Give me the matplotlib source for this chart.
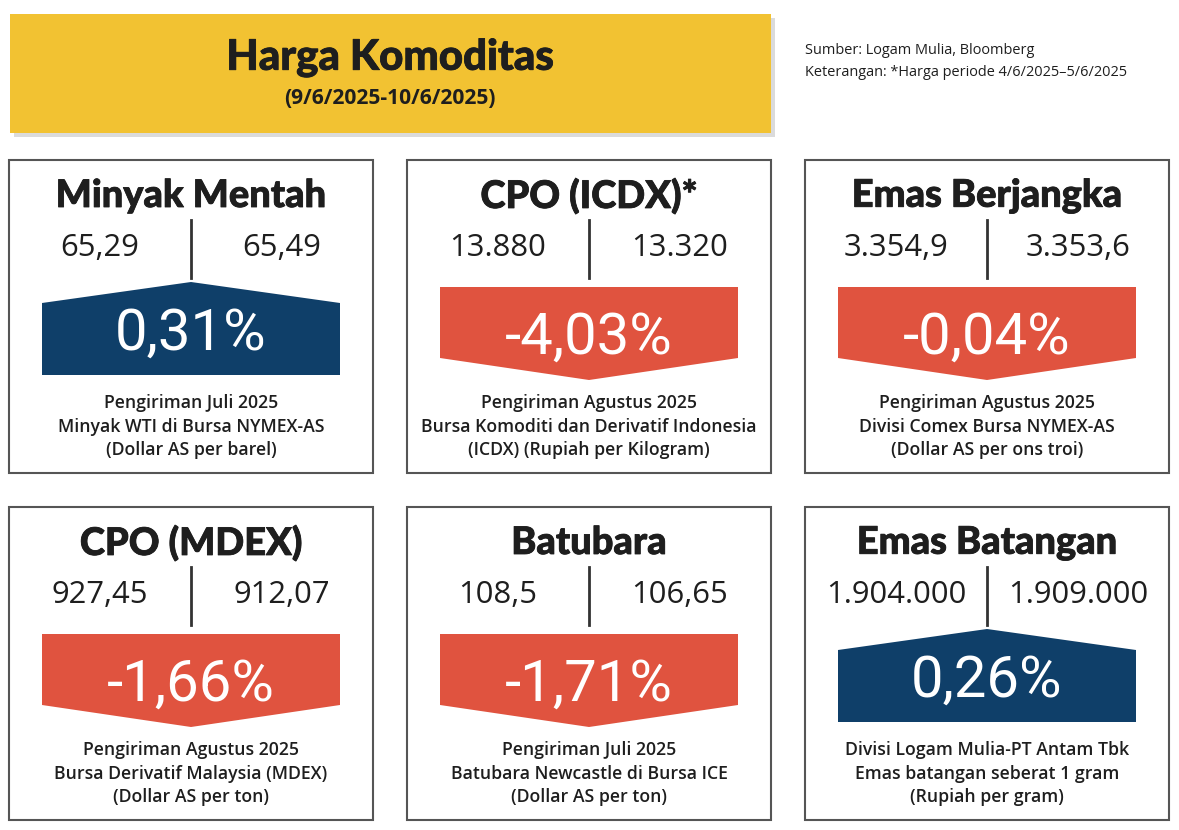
import matplotlib
matplotlib.use("Agg")
import matplotlib.pyplot as plt
import matplotlib.patheffects as pe
from matplotlib.patches import Rectangle, Polygon
from matplotlib import font_manager

# data of the six commodity cards
names = ['Minyak Mentah', 'CPO (ICDX)*', 'Emas Berjangka',
         'CPO (MDEX)', 'Batubara', 'Emas Batangan']
prev_prices = ['65,29', '13.880', '3.354,9', '927,45', '108,5', '1.904.000']
curr_prices = ['65,49', '13.320', '3.353,6', '912,07', '106,65', '1.909.000']
changes = [0.31, -4.03, -0.04, -1.66, -1.71, 0.26]
notes = [
    ['Pengiriman Juli 2025', 'Minyak WTI di Bursa NYMEX-AS', '(Dollar AS per barel)'],
    ['Pengiriman Agustus 2025', 'Bursa Komoditi dan Derivatif Indonesia',
     '(ICDX) (Rupiah per Kilogram)'],
    ['Pengiriman Agustus 2025', 'Divisi Comex Bursa NYMEX-AS', '(Dollar AS per ons troi)'],
    ['Pengiriman Agustus 2025', 'Bursa Derivatif Malaysia (MDEX)', '(Dollar AS per ton)'],
    ['Pengiriman Juli 2025', 'Batubara Newcastle di Bursa ICE', '(Dollar AS per ton)'],
    ['Divisi Logam Mulia-PT Antam Tbk', 'Emas batangan seberat 1 gram',
     '(Rupiah per gram)'],
]
title = 'Harga Komoditas'
subtitle = '(9/6/2025-10/6/2025)'
sources = ['Sumber: Logam Mulia, Bloomberg',
           'Keterangan: *Harga periode 4/6/2025\u20135/6/2025']

# pick fonts that exist
avail = {f.name for f in font_manager.fontManager.ttflist}
heavy = 'Lato' if 'Lato' in avail else 'DejaVu Sans'
body = 'Open Sans' if 'Open Sans' in avail else 'DejaVu Sans'
pct_font = 'Roboto' if 'Roboto' in avail else body

PT = 0.72  # pixel size -> points at dpi 100
BLUE = '#0f3f69'
RED = '#e0533f'
YELLOW = '#f2c232'
INK = '#1e1e1e'

fig = plt.figure(figsize=(11.79, 8.30), dpi=100)
ax = fig.add_axes([0, 0, 1, 1])
ax.set_xlim(0, 1179)
ax.set_ylim(830, 0)
ax.axis('off')

# header box with a soft shadow
ax.add_patch(Rectangle((14, 18), 761, 119, color='#c4c4c4', alpha=0.6, lw=0))
ax.add_patch(Rectangle((10, 14), 761, 119, color=YELLOW, lw=0))
ax.text(390, 58, title, ha='center', va='center', fontsize=42 * PT,
        family=heavy, weight='black', color=INK,
        path_effects=[pe.withStroke(linewidth=0.6, foreground=INK)])
ax.text(390, 99, subtitle, ha='center', va='center', fontsize=21 * PT,
        family=body, weight='bold', color=INK)
for i, s in enumerate(sources):
    ax.text(805, 50 + 23 * i, s, ha='left', va='center', fontsize=14.5 * PT,
            family=body, color=INK)

lefts = [9, 407, 805]
tops = [160, 507]
W, H = 364, 313

for k in range(6):
    x0 = lefts[k % 3]
    y0 = tops[k // 3]
    cx = x0 + W / 2
    ax.add_patch(Rectangle((x0, y0), W, H, fill=False, ec='#555555', lw=1.5))

    ax.text(cx, y0 + 36, names[k], ha='center', va='center', fontsize=38 * PT,
            family=heavy, weight='black', color=INK,
            path_effects=[pe.withStroke(linewidth=0.6, foreground=INK)])

    ax.plot([cx, cx], [y0 + 60, y0 + 118], color='#333333', lw=2)
    ax.text(x0 + W * 0.25, y0 + 88, prev_prices[k], ha='center', va='center',
            fontsize=31 * PT, family=body, color=INK)
    ax.text(x0 + W * 0.75, y0 + 88, curr_prices[k], ha='center', va='center',
            fontsize=31 * PT, family=body, color=INK)

    L, R = x0 + 33, x0 + 331
    c = changes[k]
    if c >= 0:
        pts = [(L, y0 + 143), (cx, y0 + 122), (R, y0 + 143), (R, y0 + 215), (L, y0 + 215)]
        col, ty = BLUE, y0 + 174
    else:
        pts = [(L, y0 + 127), (R, y0 + 127), (R, y0 + 198), (cx, y0 + 220), (L, y0 + 198)]
        col, ty = RED, y0 + 178
    ax.add_patch(Polygon(pts, closed=True, color=col, lw=0))
    label = f'{c:.2f}'.replace('.', ',') + '%'
    ax.text(cx, ty, label, ha='center', va='center', fontsize=58 * PT,
            family=pct_font, color='white')

    for j, line in enumerate(notes[k]):
        ax.text(cx, y0 + 243 + 23.5 * j, line, ha='center', va='center',
                fontsize=17.6 * PT, family=body, weight='semibold', color=INK)

fig.savefig('out.png', dpi=100, facecolor='white')
